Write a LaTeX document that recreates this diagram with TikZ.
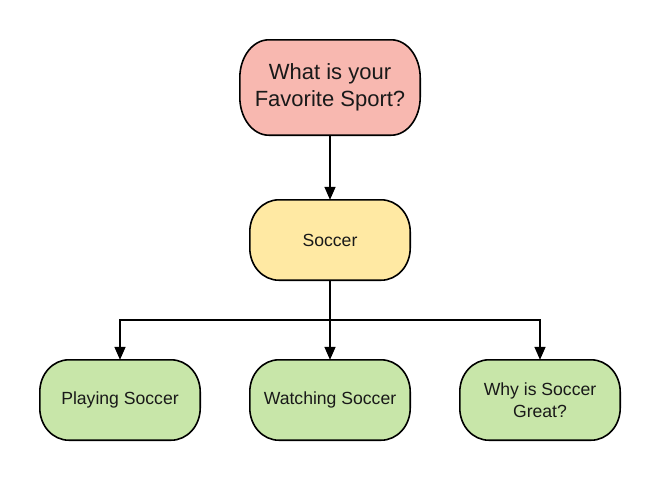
\documentclass[tikz,border=0pt]{standalone}
\usepackage{fontspec}
\setmainfont{Liberation Sans}
\usetikzlibrary{arrows.meta,backgrounds}
\definecolor{pinkf}{HTML}{F8B8B0}
\definecolor{yellowf}{HTML}{FFE9A3}
\definecolor{greenf}{HTML}{C8E6A9}
\tikzset{
  box/.style={draw=none, align=center, inner sep=0pt, text=black!90, minimum width=160pt, minimum height=80pt, font=\fontsize{17.6}{22}\selectfont},
  conn/.style={draw=black, line width=1.6pt, -{Triangle[width=11pt,length=13pt]}},
  line/.style={draw=black, line width=1.6pt},
  outline/.style={draw=black, line width=1.6pt}
}
\begin{document}
\begin{tikzpicture}[x=1pt,y=-1pt]
\useasboundingbox (0,0) rectangle (660,480);
\node[box, minimum width=180pt, minimum height=95pt, font=\fontsize{22}{27}\selectfont] (q) at (330,87.5) {What is your\\Favorite Sport?};
\node[box] (s) at (330,240) {Soccer};
\node[box] (p) at (120,400) {Playing Soccer};
\node[box] (w) at (330,400) {Watching Soccer};
\node[box] (g) at (540,400) {Why is Soccer\\Great?};
\begin{scope}[on background layer]
\foreach \n/\c/\ry in {q/pinkf/38, s/yellowf/32, p/greenf/32, w/greenf/32, g/greenf/32}{
  \path[outline, fill=\c] ([xshift=29pt]\n.north west) -- ([xshift=-29pt]\n.north east)
    arc[start angle=90, end angle=0, x radius=29pt, y radius=\ry pt]
    -- ([yshift=\ry pt]\n.south east)
    arc[start angle=0, end angle=-90, x radius=29pt, y radius=\ry pt]
    -- ([xshift=29pt]\n.south west)
    arc[start angle=270, end angle=180, x radius=29pt, y radius=\ry pt]
    -- ([yshift=-\ry pt]\n.north west)
    arc[start angle=180, end angle=90, x radius=29pt, y radius=\ry pt] -- cycle;
}
\end{scope}
\coordinate (j) at (330,320);
\draw[conn] (q) -- (s);
\draw[line] (s) -- (j);
\draw[conn] (j) -- (w);
\draw[conn] (j) -| (p);
\draw[conn] (j) -| (g);
\end{tikzpicture}
\end{document}
